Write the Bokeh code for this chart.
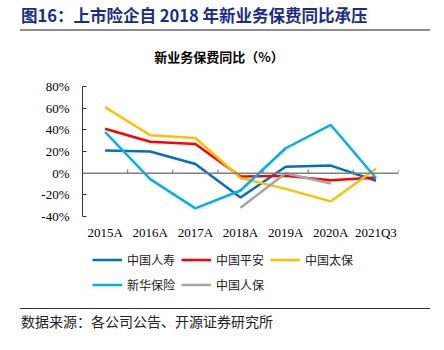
from bokeh.plotting import figure
from bokeh.layouts import column
from bokeh.models import (Span, Legend, LegendItem, FactorRange, Div, Range1d,
                          ColumnDataSource, PrintfTickFormatter, FixedTicker)
from bokeh.transform import dodge
from bokeh.embed import file_html
from bokeh.resources import INLINE

categories = ["2015A", "2016A", "2017A", "2018A", "2019A", "2020A", "2021Q3"]
china_life = [21, 20, 8.5, -22.5, 6, 7, -7]
ping_an = [41, 29, 27, -3, -2.5, -6.5, -4]
cpic = [61, 35, 32.5, -4.5, -14.5, -26, 4]
nci = [38, -5.5, -32.5, -16, 23, 44.5, -4.5]
picc_categories = ["2018A", "2019A", "2020A"]
picc = [-32, 0, -9.5]
series_names = ["中国人寿", "中国平安", "中国太保", "新华保险", "中国人保"]
series_colors = ["#0070C0", "#FF0000", "#FFC000", "#00B0F0", "#A5A5A5"]
y_ticks = [-40, -20, 0, 20, 40, 60, 80]

title_text = "图16：上市险企自 2018 年新业务保费同比承压"
chart_title = "新业务保费同比（%）"
source_text = "数据来源：各公司公告、开源证券研究所"

CJK = "'Noto Sans CJK SC'"
SERIF = "Liberation Serif"
W = 444

head = Div(width=W, height=70, margin=0, text=(
    f'<div style="position:relative;width:{W}px;height:70px;background:white;">'
    f'<div style="position:absolute;left:21px;top:4px;white-space:nowrap;font-family:{CJK};'
    f'font-weight:bold;font-size:16.5px;line-height:22px;color:#1C2A8C;">{title_text}</div>'
    f'<div style="position:absolute;left:20px;top:29px;width:410px;height:2px;background:#8C8C8C;"></div>'
    f'<div style="position:absolute;left:0px;top:48px;width:438px;text-align:center;white-space:nowrap;'
    f'font-family:{CJK};font-weight:bold;font-size:13px;line-height:18px;color:black;">{chart_title}</div>'
    f'</div>'))

p = figure(width=W, height=175, x_range=FactorRange(*categories), y_range=(-40, 80),
           output_backend="svg", toolbar_location=None,
           min_border_left=82, min_border_right=46, min_border_top=16, min_border_bottom=29)
p.xgrid.visible = False
p.ygrid.visible = False
p.outline_line_color = None
p.border_fill_color = "white"

yax = p.yaxis[0]
yax.ticker = FixedTicker(ticks=y_ticks)
yax.formatter = PrintfTickFormatter(format="%d%%")
yax.axis_line_color = "#333333"
yax.major_tick_line_color = "#333333"
yax.major_tick_in = 4
yax.major_tick_out = 0
yax.minor_tick_line_color = None
yax.major_label_text_font = SERIF
yax.major_label_text_font_size = "13px"
yax.major_label_text_color = "black"
yax.major_label_standoff = 13

xax = p.xaxis[0]
xax.axis_line_color = None
xax.major_tick_line_color = None
xax.major_tick_in = 0
xax.major_tick_out = 0
xax.minor_tick_line_color = None
xax.major_label_text_font = SERIF
xax.major_label_text_font_size = "13px"
xax.major_label_text_color = "black"
xax.major_label_standoff = 8

p.add_layout(Span(location=0, dimension="width", line_color="#808080", line_width=1.5))
tick_src = ColumnDataSource(dict(cat=categories, y0=[0] * len(categories), y1=[3.5] * len(categories)))
p.segment(x0=dodge("cat", 0.5, range=p.x_range), x1=dodge("cat", 0.5, range=p.x_range),
          y0="y0", y1="y1", source=tick_src, line_color="#808080", line_width=1.2)

series_data = [(categories, china_life), (categories, ping_an), (categories, cpic),
               (categories, nci), (picc_categories, picc)]
for (xs, ys), color in zip(series_data, series_colors):
    p.line(xs, ys, line_color=color, line_width=2.5)

# legend strip (aligned to the chart frame); its sample renderers sit outside the visible range
lg = figure(width=W, height=55, x_range=Range1d(0, 1), y_range=Range1d(0, 1),
            output_backend="svg", toolbar_location=None,
            min_border_left=82, min_border_right=46, min_border_top=0, min_border_bottom=0)
lg.axis.visible = False
lg.grid.visible = False
lg.outline_line_color = None
lg.border_fill_color = "white"
items = []
for name, color in zip(series_names, series_colors):
    r = lg.line(x=[5, 6], y=[5, 6], line_color=color, line_width=2.5)
    items.append(LegendItem(label=name, renderers=[r]))


def make_legend(its, loc):
    return Legend(items=its, location=loc, orientation="horizontal",
                  glyph_width=30, glyph_height=25, label_height=25, label_standoff=5,
                  spacing=6, padding=0, margin=0, border_line_color=None,
                  background_fill_alpha=0, label_text_font="Noto Sans CJK SC",
                  label_text_font_size="12px", label_text_color="#222222")


lg.add_layout(make_legend(items[:3], (10, 28.5)))
lg.add_layout(make_legend(items[3:], (10, 3.5)))

foot = Div(width=W, height=50, margin=0, text=(
    f'<div style="position:relative;width:{W}px;height:50px;background:white;">'
    f'<div style="position:absolute;left:20px;top:8px;width:410px;height:1px;background:#333333;"></div>'
    f'<div style="position:absolute;left:21px;top:11px;white-space:nowrap;font-family:{CJK};'
    f'font-size:14px;line-height:20px;color:#222222;">{source_text}</div>'
    f'</div>'))

layout = column(head, p, lg, foot, spacing=0)
open("out.html", "w").write(file_html(layout, INLINE))
